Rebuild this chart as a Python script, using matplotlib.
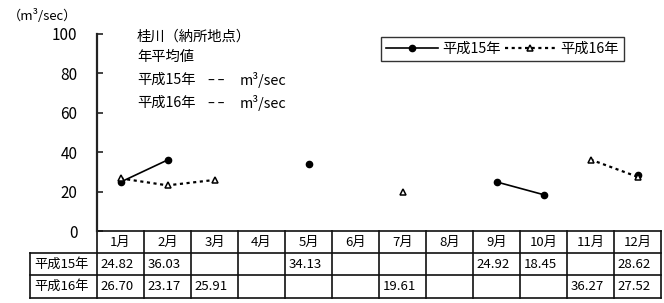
import numpy as np
import matplotlib
matplotlib.use("Agg")
import matplotlib.pyplot as plt
import matplotlib.transforms as mtransforms

plt.rcParams['font.family'] = ['Noto Sans CJK JP', 'DejaVu Sans']

months = ['1月', '2月', '3月', '4月', '5月', '6月', '7月', '8月', '9月', '10月', '11月', '12月']
series_names = ['平成15年', '平成16年']
h15 = [24.82, 36.03, None, None, 34.13, None, None, None, 24.92, 18.45, None, 28.62]
h16 = [26.70, 23.17, 25.91, None, None, None, 19.61, None, None, None, 36.27, 27.52]
yticks = [0, 20, 40, 60, 80, 100]
unit_label = '（m³/sec）'
notes = ['桂川（納所地点）', '年平均値']
note_rows = [('平成15年', '-- ', 'm³/sec'), ('平成16年', '--', 'm³/sec')]

W, H = 664, 303
fig = plt.figure(figsize=(W / 100, H / 100), dpi=100)
ax = fig.add_axes([97 / W, (H - 231) / H, (661 - 97) / W, 197 / H])

x = np.arange(1, len(months) + 1)
y15 = np.array([np.nan if v is None else v for v in h15])
y16 = np.array([np.nan if v is None else v for v in h16])

ax.plot(x, y15, color='black', lw=1.2, marker='o', ms=4.5, mfc='black', mec='black',
        label=series_names[0], zorder=3)
ax.plot(x, y16, color='black', lw=1.6, ls=(0, (1.4, 1.6)), marker='^', ms=5, mfc='white',
        mec='black', mew=1.1, label=series_names[1], zorder=4)

ax.set_xlim(0.5, len(months) + 0.5)
ax.set_ylim(0, 100)
ax.set_yticks(yticks)
ax.set_xticks([])
for s in ['top', 'right', 'bottom']:
    ax.spines[s].set_visible(False)
ax.spines['left'].set_linewidth(1.6)
ax.spines['left'].set_color('#222222')
ax.tick_params(axis='y', direction='in', length=4.5, width=1.2, pad=14, labelsize=11,
               color='#222222')

# legend
leg = ax.legend(loc='upper left', bbox_to_anchor=((381 - 97) / 564, (231 - 37) / 197),
                borderaxespad=0, ncol=2, frameon=True, fancybox=False, fontsize=10.3,
                handlelength=3.6, handletextpad=0.3, columnspacing=0.3, numpoints=1,
                borderpad=0.35, edgecolor='black')
leg.get_frame().set_linewidth(1.0)

# unit label
fig.text(8 / W, 1 - 16 / H, unit_label, fontsize=9.5, ha='left', va='center')

# notes
fig.text(137 / W, 1 - 37 / H, notes[0], fontsize=10.3, ha='left', va='center')
fig.text(137 / W, 1 - 57 / H, notes[1], fontsize=10.3, ha='left', va='center')
for i, (a, b, c) in enumerate(note_rows):
    yy = 1 - (80 + 23 * i) / H
    fig.text(137 / W, yy, a, fontsize=10.3, ha='left', va='center')
    fig.text(216 / W, yy, '–\u2009–', fontsize=10, ha='center', va='center',
             family=['DejaVu Sans'])
    fig.text(240 / W, yy, c, fontsize=10.3, ha='left', va='center')

# table below axis
trans = mtransforms.blended_transform_factory(ax.transData, ax.transAxes)
def yfrac(py):
    return (231 - py) / 197
rows_px = [231, 253, 275, 298]
label_left = 0.5 - (97 - 30) / 47.0
lw_t = 1.2
lc = '#111111'
ax.plot([0.5, 12.5], [yfrac(231)] * 2, transform=trans, color=lc, lw=lw_t, clip_on=False)
for py in rows_px[1:]:
    ax.plot([label_left, 12.5], [yfrac(py)] * 2, transform=trans, color=lc, lw=lw_t, clip_on=False)
for k in range(len(months) + 1):
    xv = 0.5 + k
    ax.plot([xv, xv], [yfrac(231), yfrac(298)], transform=trans, color=lc, lw=lw_t, clip_on=False)
ax.plot([label_left, label_left], [yfrac(253), yfrac(298)], transform=trans, color=lc, lw=lw_t,
        clip_on=False)

fs_t = 9.5
for i, m in enumerate(months):
    ax.text(i + 1, yfrac(242), m, transform=trans, ha='center', va='center', fontsize=fs_t)
for r, (name, vals) in enumerate(zip(series_names, [h15, h16])):
    yc = yfrac((rows_px[r + 1] + rows_px[r + 2]) / 2)
    ax.text(label_left + 0.09, yc, name, transform=trans, ha='left', va='center', fontsize=fs_t)
    for i, v in enumerate(vals):
        if v is not None:
            ax.text(i + 0.5 + 0.07, yc, f'{v:.2f}', transform=trans, ha='left', va='center',
                    fontsize=fs_t)

fig.savefig('out.png', dpi=100)
